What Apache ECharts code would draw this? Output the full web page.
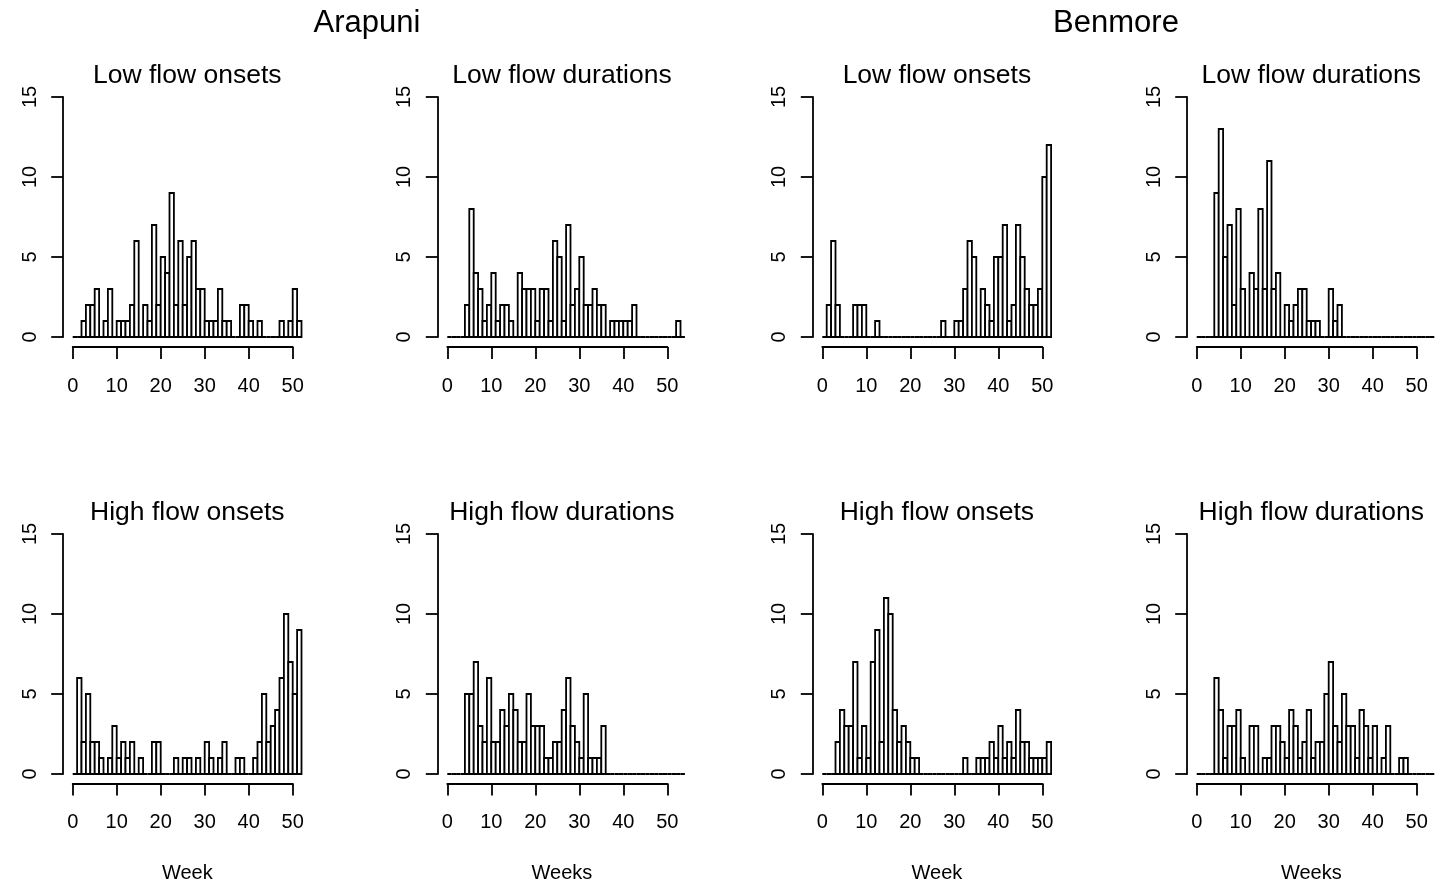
<!DOCTYPE html>
<html><head><meta charset="utf-8">
<script src="https://cdn.jsdelivr.net/npm/echarts@6/dist/echarts.min.js"></script>
<style>html,body{margin:0;padding:0;background:#fff}#c{width:1445px;height:885px}</style>
</head><body><div id="c"></div>
<script>
// ---- data (counts per 1-week bin, bin k = [k, k+1)) ----
const siteNames = ['Arapuni', 'Benmore'];
const panelTitles = ['Low flow onsets', 'Low flow durations', 'High flow onsets', 'High flow durations'];
const xAxisTitles = ['Week', 'Weeks'];
const xTicks = [0, 10, 20, 30, 40, 50];
const yTicks = [0, 5, 10, 15];

const arapuniLowOnsets = [0,0,1,2,2,3,0,1,3,0,1,1,1,2,6,0,2,1,7,2,5,4,9,2,6,2,5,6,3,3,1,1,1,3,1,1,0,0,2,2,1,0,1,0,0,0,0,1,0,1,3,1];
const arapuniLowDurations = [0,0,0,0,2,8,4,3,1,2,4,1,2,2,1,0,4,3,3,3,1,3,3,1,6,5,1,7,2,3,5,2,2,3,2,2,0,1,1,1,1,1,2,0,0,0,0,0,0,0,0,0,1,0];
const benmoreLowOnsets = [0,2,6,2,0,0,0,2,2,2,0,0,1,0,0,0,0,0,0,0,0,0,0,0,0,0,0,1,0,0,1,1,3,6,5,0,3,2,1,5,5,7,1,2,7,5,3,2,2,3,10,12];
const benmoreLowDurations = [0,0,0,0,9,13,5,7,2,8,3,0,4,3,8,3,11,3,4,0,2,1,2,3,3,1,1,1,0,0,3,1,2,0,0,0,0,0,0,0,0,0,0,0,0,0,0,0,0,0,0,0,0,0];
const arapuniHighOnsets = [0,6,2,5,2,2,1,0,1,3,1,2,1,2,0,1,0,0,2,2,0,0,0,1,0,1,1,0,1,0,2,1,0,1,2,0,0,1,1,0,0,1,2,5,2,3,4,6,10,7,5,9];
const arapuniHighDurations = [0,0,0,0,5,5,7,3,2,6,2,2,4,3,5,4,2,2,5,3,3,3,1,1,2,2,4,6,3,2,1,5,1,1,1,3,0,0,0,0,0,0,0,0,0,0,0,0,0,0,0,0,0,0];
const benmoreHighOnsets = [0,0,0,2,4,3,3,7,1,3,1,7,9,2,11,10,4,2,3,2,1,1,0,0,0,0,0,0,0,0,0,0,1,0,0,1,1,1,2,1,3,1,2,1,4,2,2,1,1,1,1,2];
const benmoreHighDurations = [0,0,0,0,6,4,1,3,3,4,1,0,3,3,0,1,1,3,3,2,1,4,3,1,2,4,1,2,2,5,7,3,2,5,3,3,1,4,3,1,3,0,1,3,0,0,1,1,0,0,0,0,0,0];

// ---- layout ----
const FONT = '"Liberation Sans", Arial, Helvetica, sans-serif';
const colX = [72.7, 447.3, 822.3, 1196.7];   // pixel of week 0 in each column
const rowTop = [97, 534];                     // pixel of count 15 in each row
const plotW = 220, plotH = 240;               // 0..50 weeks, 0..15 counts
const LW = 1.8;

const panels = [
  {data: arapuniLowOnsets, r: 0, c: 0, t: 0},
  {data: arapuniLowDurations, r: 0, c: 1, t: 1},
  {data: benmoreLowOnsets, r: 0, c: 2, t: 0},
  {data: benmoreLowDurations, r: 0, c: 3, t: 1},
  {data: arapuniHighOnsets, r: 1, c: 0, t: 2},
  {data: arapuniHighDurations, r: 1, c: 1, t: 3},
  {data: benmoreHighOnsets, r: 1, c: 2, t: 2},
  {data: benmoreHighDurations, r: 1, c: 3, t: 3}
];

const grid = [], xAxis = [], yAxis = [], series = [], graphic = [];

panels.forEach((p, i) => {
  grid.push({left: colX[p.c], top: rowTop[p.r], width: plotW, height: plotH,
    containLabel: false, outerBoundsMode: 'none', show: false});
  xAxis.push({
    type: 'value', gridIndex: i, position: 'bottom',
    min: xTicks[0], max: xTicks[xTicks.length - 1], interval: xTicks[1] - xTicks[0],
    offset: p.r === 0 ? 10 : 9.5,
    axisLine: {show: true, onZero: false, lineStyle: {color: '#000', width: LW}},
    axisTick: {show: true, inside: false, length: 12, lineStyle: {color: '#000', width: LW}},
    axisLabel: {show: true, color: '#000', fontSize: 20, fontFamily: FONT, margin: 29,
      showMinLabel: true, showMaxLabel: true, hideOverlap: false},
    splitLine: {show: false}
  });
  yAxis.push({
    type: 'value', gridIndex: i, position: 'left',
    min: yTicks[0], max: yTicks[yTicks.length - 1], interval: yTicks[1] - yTicks[0],
    offset: 9.5,
    axisLine: {show: true, onZero: false, lineStyle: {color: '#000', width: LW}},
    axisTick: {show: true, inside: false, length: 12, lineStyle: {color: '#000', width: LW}},
    axisLabel: {show: true, color: '#000', fontSize: 20, fontFamily: FONT, rotate: 90, margin: 23,
      showMinLabel: true, showMaxLabel: true, hideOverlap: false},
    splitLine: {show: false}
  });
  series.push({
    type: 'custom', xAxisIndex: i, yAxisIndex: i, clip: false, silent: true,
    data: p.data.map((v, k) => [k, v]),
    encode: {x: 0, y: 1},
    renderItem: function (params, api) {
      const k = api.value(0), v = api.value(1);
      const a = api.coord([k, 0]);
      const b = api.coord([k + 1, v]);
      return {type: 'rect',
        shape: {x: a[0], y: b[1], width: b[0] - a[0], height: a[1] - b[1]},
        style: {fill: '#fff', stroke: '#000', lineWidth: LW}};
    }
  });
  const cx = colX[p.c] + 114.6;
  graphic.push({type: 'text', x: cx, y: p.r === 0 ? 75.5 : 512.5,
    style: {text: panelTitles[p.t], fill: '#000', font: '26.5px ' + FONT, align: 'center', verticalAlign: 'middle'}});
  if (p.r === 1) {
    graphic.push({type: 'text', x: cx, y: 873.5,
      style: {text: xAxisTitles[p.t === 2 ? 0 : 1], fill: '#000', font: '20px ' + FONT, align: 'center', verticalAlign: 'middle'}});
  }
});

graphic.push({type: 'text', x: 367, y: 23.5,
  style: {text: siteNames[0], fill: '#000', font: '31px ' + FONT, align: 'center', verticalAlign: 'middle'}});
graphic.push({type: 'text', x: 1116, y: 23.5,
  style: {text: siteNames[1], fill: '#000', font: '31px ' + FONT, align: 'center', verticalAlign: 'middle'}});

const chart = echarts.init(document.getElementById('c'), null, {renderer: 'canvas'});
chart.setOption({
  backgroundColor: '#fff',
  animation: false,
  grid, xAxis, yAxis, series, graphic
});
</script>
</body></html>
